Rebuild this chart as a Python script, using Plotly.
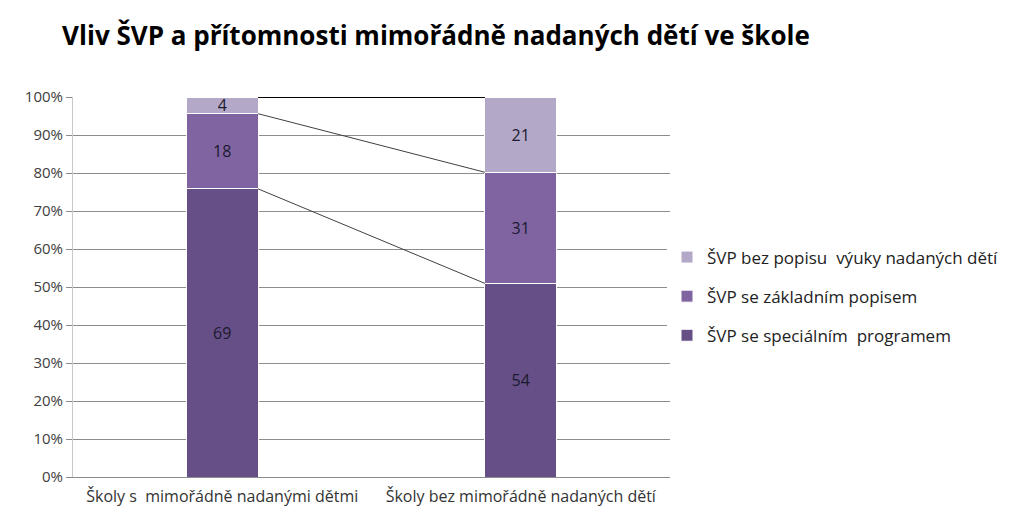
import numpy as np
import plotly.graph_objects as go

categories = ["Školy s  mimořádně nadanými dětmi", "Školy bez mimořádně nadaných dětí"]
series_names = ["ŠVP se speciálním  programem", "ŠVP se základním popisem", "ŠVP bez popisu  výuky nadaných dětí"]
special = [69, 54]
basic = [18, 31]
none_desc = [4, 21]
colors = ["#664f86", "#8064a2", "#b4a8c8"]

values = [special, basic, none_desc]
xpos = [0, 1]
bar_w = 0.24
FONT = "Open Sans, Lato, sans-serif"

fig = go.Figure()

# connector lines between the stacks (cumulative shares)
totals = np.array(special) + np.array(basic) + np.array(none_desc)
cum = np.cumsum(np.array(values), axis=0) / totals * 100
for i, row in enumerate(cum):
    top = i == len(cum) - 1
    fig.add_trace(go.Scatter(
        x=[xpos[0] + bar_w / 2, xpos[1] - bar_w / 2],
        y=list(row),
        mode="lines",
        line=dict(color="#000000" if top else "#404040", width=2 if top else 1),
        showlegend=False, hoverinfo="skip",
    ))

for i, (name, vals, col) in enumerate(zip(series_names, values, colors)):
    fig.add_trace(go.Bar(
        x=xpos, y=vals, name=name, width=bar_w, legendgroup=f"g{i}",
        legendrank=10 - i,
        marker=dict(color=col, line=dict(color="white", width=1)),
        text=vals, textposition="inside", insidetextanchor="middle",
        textangle=0, constraintext="none",
        textfont=dict(family=FONT, size=16, color="#1a1a2e"),
    ))

fig.update_layout(
    barmode="stack", barnorm="percent",
    width=1021, height=515,
    margin=dict(l=65, r=359, t=89, b=46, autoexpand=False),
    paper_bgcolor="white", plot_bgcolor="white",
    title=dict(text="<b>Vliv ŠVP a přítomnosti mimořádně nadaných dětí ve škole</b>",
               x=0.053, xanchor="left", y=0.945, yanchor="middle",
               font=dict(family=FONT, size=26, color="#000000")),
    legend=dict(x=0.995, y=0.475, xanchor="left", yanchor="middle", traceorder="grouped",
                font=dict(family=FONT, size=17, color="#222222"),
                itemwidth=30, tracegroupgap=14),
    font=dict(family=FONT),
)
fig.update_yaxes(range=[0, 100], dtick=10, ticksuffix="%", showgrid=True, gridcolor="#8c8c8c",
                 gridwidth=1, ticks="outside", ticklen=6, tickcolor="#8c8c8c",
                 showline=True, linecolor="#c8c8c8", zeroline=False, automargin=False,
                 tickfont=dict(size=15, color="#404040"))
fig.update_xaxes(range=[-0.5, 1.5], tickvals=xpos, ticktext=categories, showgrid=False,
                 ticks="outside", ticklen=5, tickcolor="white",
                 zeroline=False, showline=True, linecolor="#8c8c8c", automargin=False,
                 tickfont=dict(size=16, color="#333333"))

fig.write_html("out.html")
